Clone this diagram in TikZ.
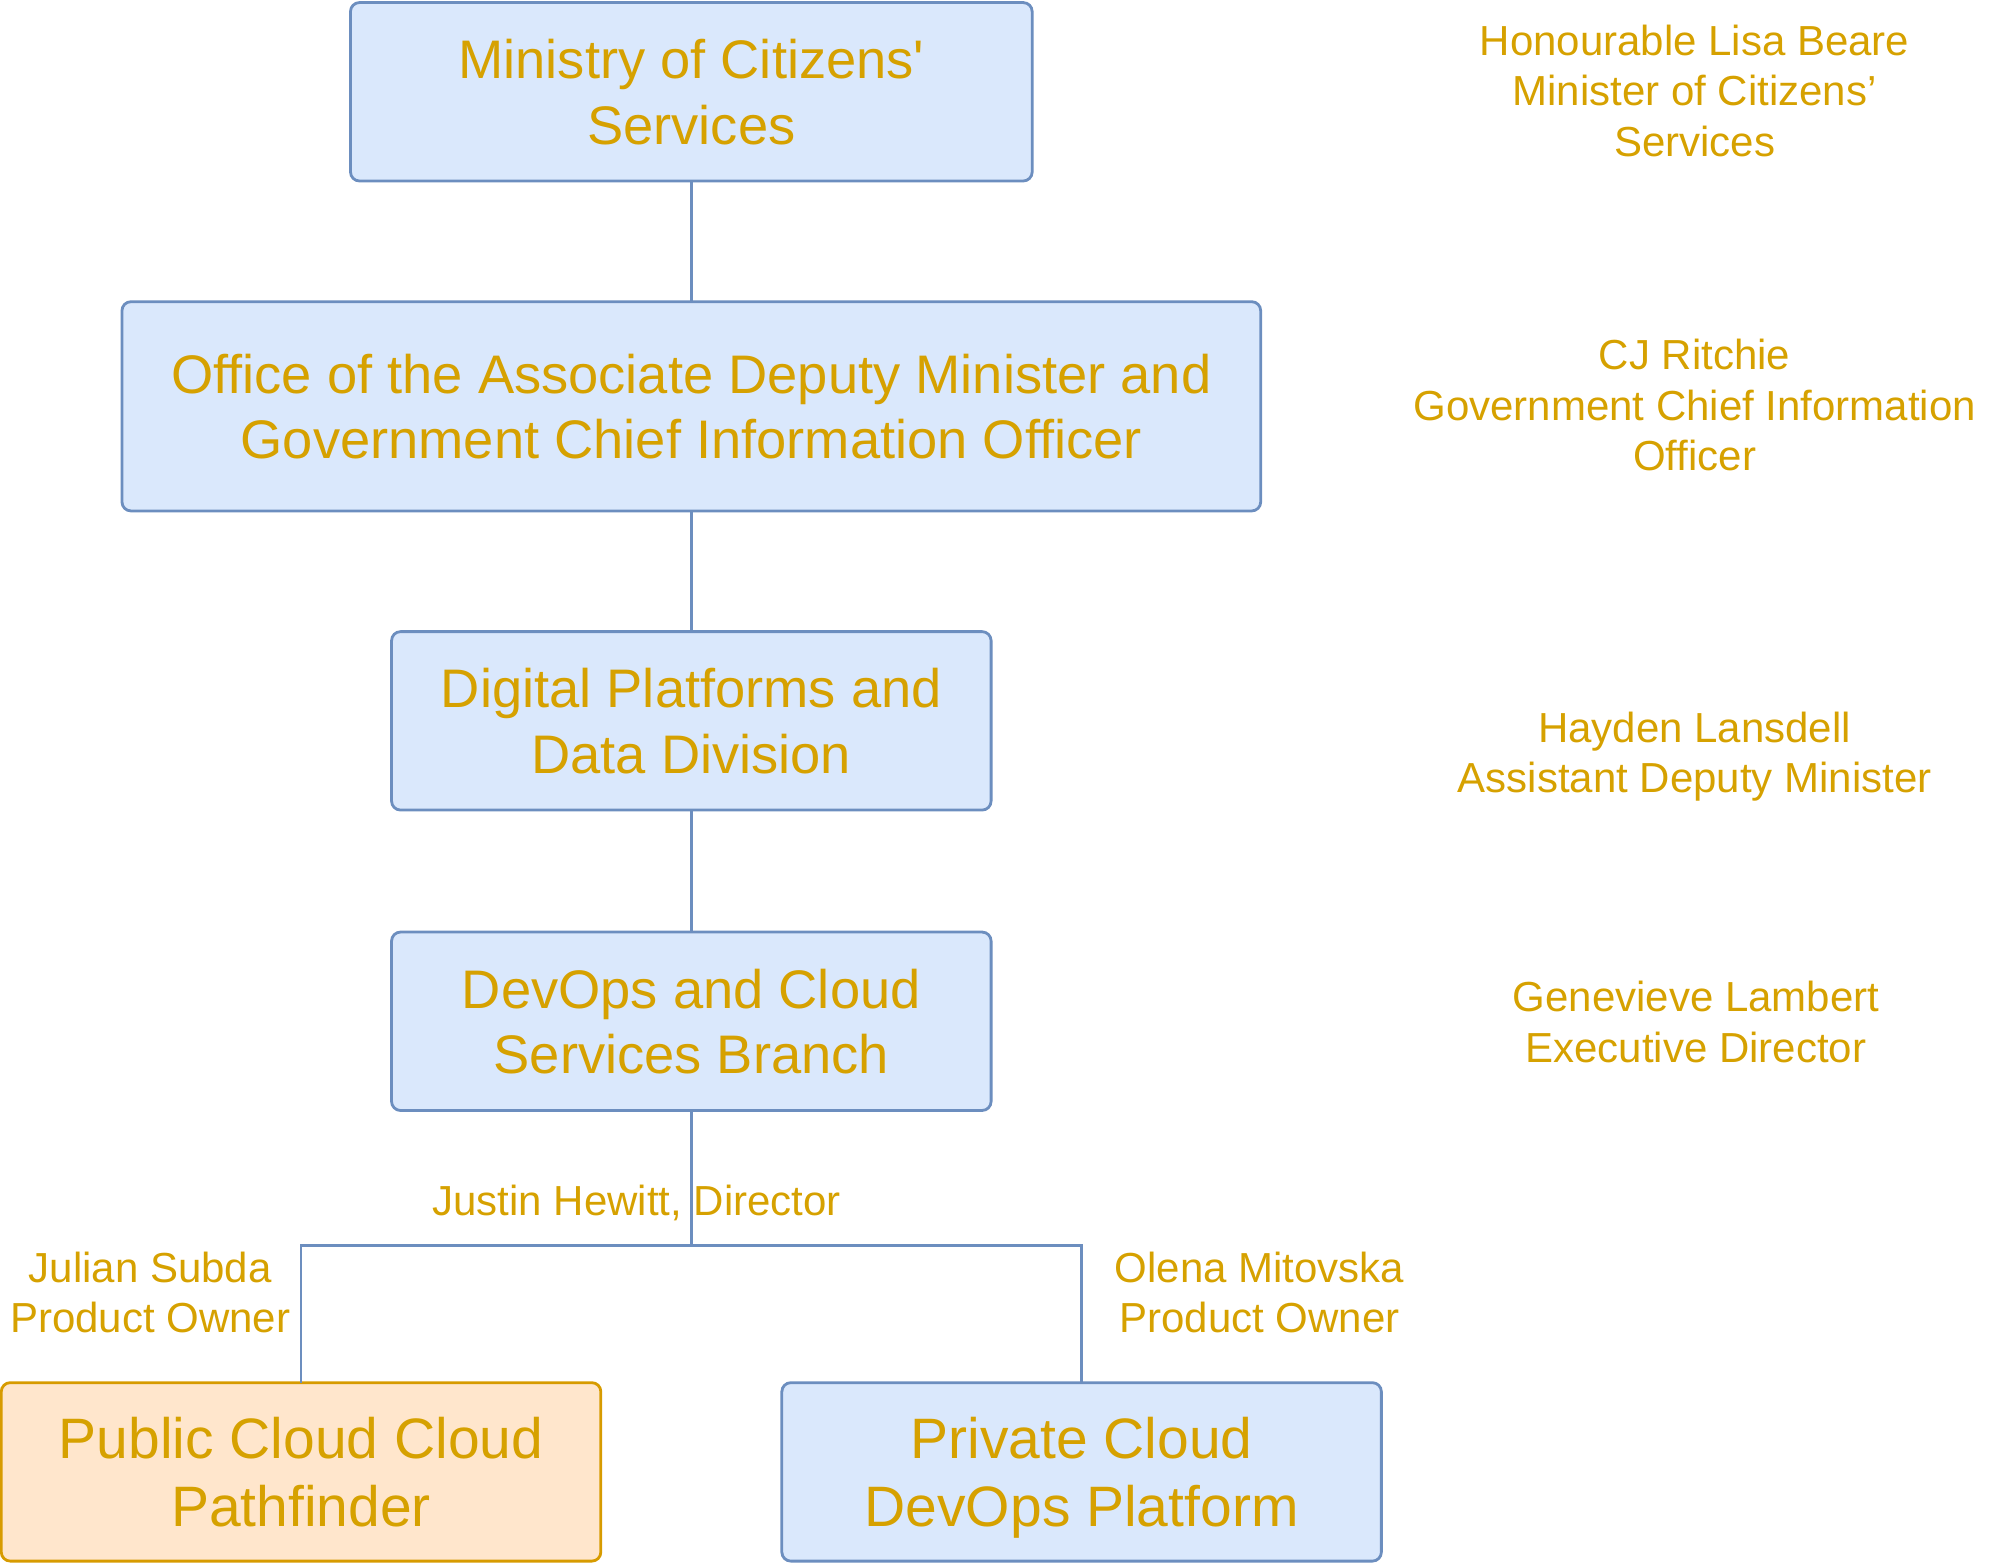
\documentclass[tikz,border=0pt]{standalone}
\usepackage{fontspec}
\setmainfont{Liberation Sans}[Ligatures=TeXOff]
\definecolor{txt}{HTML}{D6A100}
\definecolor{bfill}{HTML}{DAE8FC}
\definecolor{bdraw}{HTML}{6C8EBF}
\definecolor{ofill}{HTML}{FFE6CC}
\definecolor{odraw}{HTML}{D79B00}
\begin{document}
\begin{tikzpicture}[x=1.2838pt,y=-1.2838pt,
  box/.style={draw=bdraw,fill=bfill,line width=2.8pt,rounded corners=9pt,inner sep=0pt,outer sep=0pt,
    align=center,text=txt,font=\fontsize{54.3}{65.5}\selectfont,text depth=0pt,minimum height={139*1.2838pt}},
  obox/.style={box,draw=odraw,fill=ofill},
  big/.style={font=\fontsize{57}{68}\selectfont},
  lbl/.style={align=center,text=txt,font=\fontsize{42}{50.7}\selectfont,inner sep=0pt,text depth=0pt},
  conn/.style={draw=bdraw,line width=2.6pt}]
\useasboundingbox (0,0) rectangle (1568,1217.5);
\node[box,minimum width={531*1.2838pt}] (b1) at (538.5,71.5) {Ministry of Citizens'\\Services};
\node[box,minimum width={887*1.2838pt},minimum height={163*1.2838pt}] (b2) at (538.5,316.5) {Office of the Associate Deputy Minister and\\Government Chief Information Officer};
\node[box,minimum width={467*1.2838pt}] (b3) at (538.5,561.5) {Digital Platforms and\\Data Division};
\node[box,minimum width={467*1.2838pt}] (b4) at (538.5,795.5) {DevOps and Cloud\\Services Branch};
\node[obox,big,minimum width={467*1.2838pt}] (b5) at (234.5,1146.5) {Public Cloud Cloud\\Pathfinder};
\node[box,big,minimum width={467*1.2838pt}] (b6) at (842.5,1146.5) {Private Cloud\\DevOps Platform};
\coordinate (j) at (538.5,970);
\draw[conn] (b1.south) -- (b2.north);
\draw[conn] (b2.south) -- (b3.north);
\draw[conn] (b3.south) -- (b4.north);
\draw[conn] (b4.south) -- (j);
\draw[conn] (b5.north) |- (j) -| (b6.north);
\node[lbl] (l1) at (1320,70.5) {Honourable Lisa Beare\\Minister of Citizens’\\Services};
\node[lbl] (l2) at (1320,315.5) {CJ Ritchie\\Government Chief Information\\Officer};
\node[lbl] (l3) at (1320,586) {Hayden Lansdell\\Assistant Deputy Minister};
\node[lbl] (l4) at (1321,796) {Genevieve Lambert\\Executive Director};
\node[lbl] (l5) at (496,935) {Justin Hewitt, Director};
\node[lbl] (l6) at (117,1006.5) {Julian Subda\\Product Owner};
\node[lbl] (l7) at (981,1006.5) {Olena Mitovska\\Product Owner};
\end{tikzpicture}
\end{document}
